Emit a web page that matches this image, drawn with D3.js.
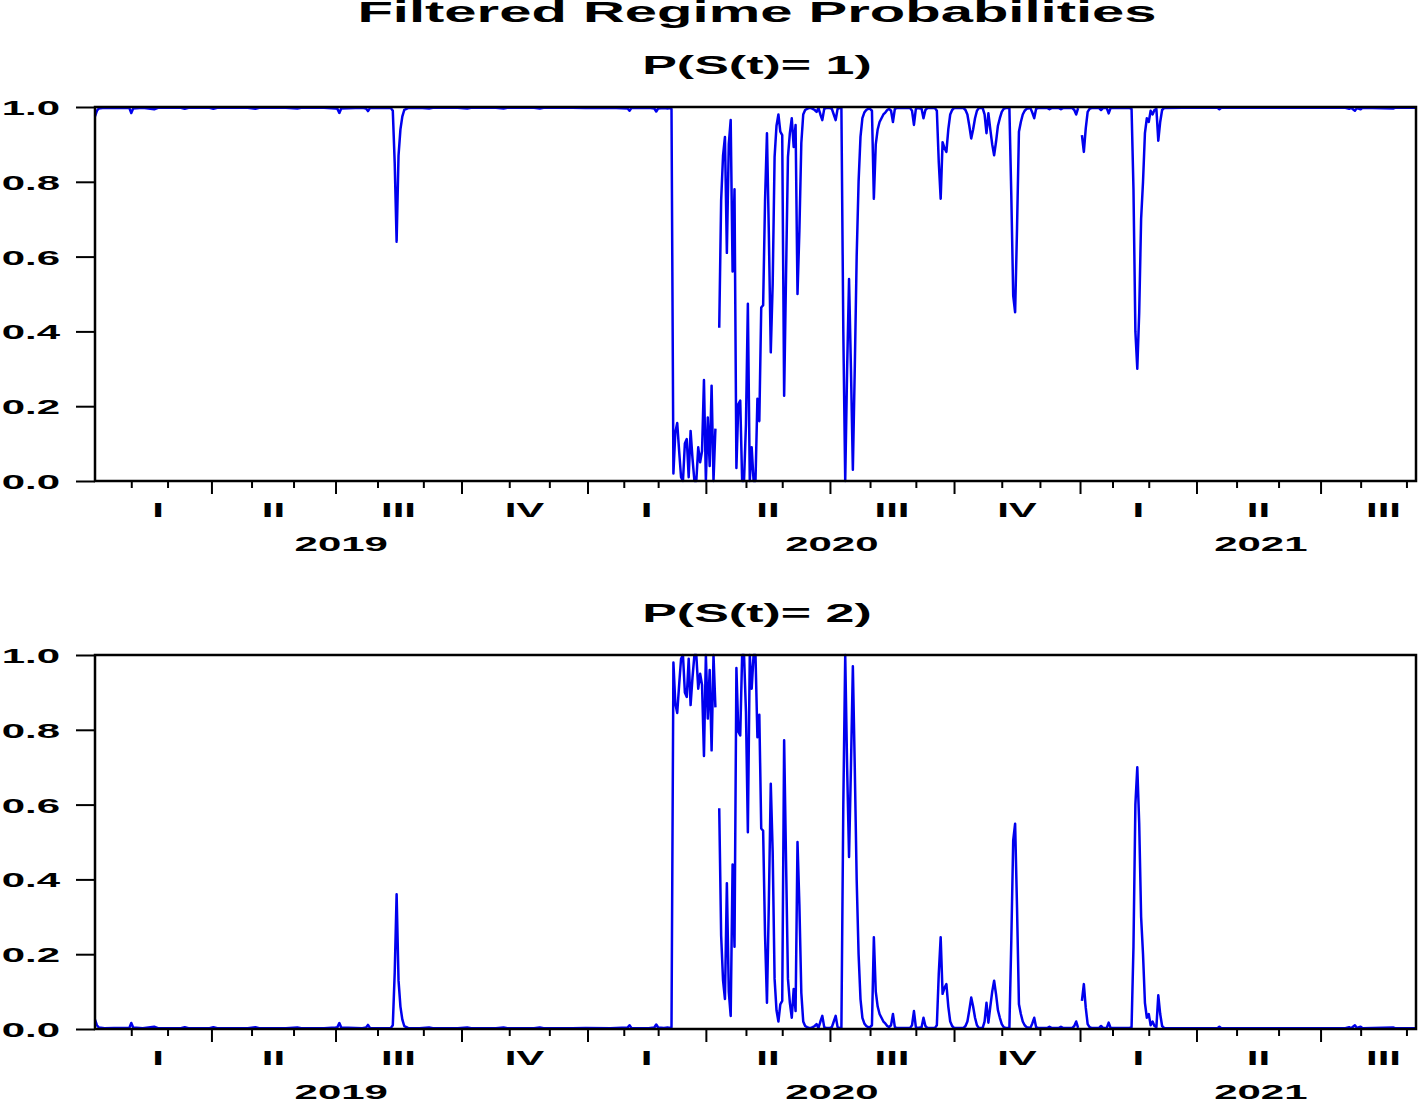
<!DOCTYPE html>
<html>
<head>
<meta charset="utf-8">
<script src="https://cdn.jsdelivr.net/npm/d3@7"></script>
<style>
  body { margin: 0; background: #fff; }
  svg { display: block; }
  text { font-family: "Liberation Sans", Arial, sans-serif; font-weight: bold; fill: #000; }
</style>
</head>
<body>
<svg id="chart" width="1418" height="1099"></svg>
<script>
// x runs over observation numbers (daily, Jan 2019 - Sep 2021)
const obsExtent = [0, 692];
const monthTicks = [19, 38, 82, 104, 148, 172, 217, 238, 277, 295, 341, 360, 406, 430, 475, 495, 533, 552, 598, 620, 663, 687];
const quarterTicks = [61, 126, 192, 258, 320, 385, 450, 516, 577, 642];
const quarterBounds = [5, 61, 126, 192, 258, 320, 385, 450, 516, 577, 642, 708];
const quarterLabels = ["I", "II", "III", "IV", "I", "II", "III", "IV", "I", "II", "III"];
const years = ["2019", "2020", "2021"];
const yearQuarters = [[0, 3], [4, 7], [8, 10]];
const yTicks = [0, 0.2, 0.4, 0.6, 0.8, 1.0];

// P(S(t)=2), [obs, prob], null = missing day
const regime2 = [[0,0.025],[1,0.01],[2,0.004],[5,0.002],[10,0.003],[18,0.003],[19,0.016],[20,0.004],[25,0.002],[31,0.006],[33,0.002],[45,0.002],[47,0.005],[49,0.002],[60,0.002],[62,0.005],[64,0.002],[80,0.002],[84,0.005],[86,0.002],[100,0.002],[106,0.004],[108,0.002],[120,0.002],[126,0.004],[127,0.005],[128,0.016],[129,0.004],[140,0.002],[142,0.004],[143,0.011],[144,0.003],[150,0.002],[155,0.003],[156,0.01],[157,0.15],[158,0.36],[159,0.13],[160,0.06],[161,0.025],[162,0.008],[164,0.003],[170,0.002],[175,0.004],[177,0.002],[190,0.002],[195,0.004],[197,0.002],[210,0.002],[214,0.004],[216,0.002],[230,0.002],[233,0.004],[235,0.002],[250,0.002],[257,0.003],[270,0.002],[279,0.004],[280,0.01],[281,0.003],[290,0.002],[293,0.004],[294,0.012],[295,0.004],[298,0.003],[300,0.004],[301,0.003],[302,0.005],
  [303,0.98],[304,0.87],[305,0.845],[306,0.92],[307,0.99],[308,1.0],[309,0.9],[310,0.888],[311,0.99],[312,0.866],[313,0.94],[314,1.0],[315,1.0],[316,0.91],[317,0.95],[318,0.92],[319,0.73],[320,1.0],[321,0.83],[322,0.96],[323,0.745],[324,1.0],[325,0.86],[326,null],[327,0.59],[328,0.25],[329,0.13],[330,0.08],[331,0.39],[332,0.1],[333,0.035],[334,0.44],[335,0.22],[336,0.965],[337,0.795],[338,0.785],[339,1.0],[340,1.0],[341,0.848],[342,0.526],[343,1.0],[344,0.91],[345,1.0],[346,1.0],[347,0.78],[348,0.84],[349,0.536],[350,0.53],[351,0.25],[352,0.07],[353,0.34],[354,0.656],[355,0.473],[356,0.134],[357,0.05],[358,0.02],[359,0.066],[360,0.075],[361,0.772],[362,0.45],[363,0.134],[364,0.07],[365,0.03],[366,0.107],[367,0.048],[368,0.5],[369,0.33],[370,0.097],[371,0.02],[372,0.008],[373,0.005],[374,0.003],[375,0.003],[376,0.005],[377,0.008],[378,0.013],[379,0.003],[380,0.02],[381,0.035],[382,0.005],[383,0.003],[385,0.003],[386,0.005],[387,0.02],[388,0.035],[389,0.005],[390,0.003],[391,0.003],
  [392,0.6],[393,1.0],[394,0.7],[395,0.46],[396,0.7],[397,0.97],[398,0.7],[399,0.4],[400,0.2],[401,0.08],[402,0.03],[403,0.015],[404,0.008],[405,0.005],[406,0.005],[407,0.01],[408,0.245],[409,0.1],[410,0.06],[411,0.04],[412,0.03],[413,0.02],[414,0.015],[415,0.008],[416,0.005],[417,0.01],[418,0.04],[419,0.005],[420,0.003],[427,0.003],[428,0.01],[429,0.048],[430,0.005],[431,0.003],[433,0.005],[434,0.03],[435,0.008],[436,0.003],[440,0.003],[441,0.01],[442,0.147],[443,0.245],[444,0.094],[445,0.11],[446,0.12],[447,0.06],[448,0.02],[449,0.008],[450,0.003],[455,0.003],[456,0.008],[457,0.02],[458,0.05],[459,0.084],[460,0.06],[461,0.03],[462,0.01],[463,0.003],[465,0.003],[466,0.02],[467,0.07],[468,0.017],[469,0.06],[470,0.1],[471,0.129],[472,0.093],[473,0.05],[474,0.03],[475,0.013],[476,0.005],[477,0.003],[479,0.003],[480,0.236],[481,0.504],[482,0.549],[483,0.325],[484,0.066],[485,0.04],[486,0.02],[487,0.01],[488,0.005],[490,0.003],[491,0.015],[492,0.03],[493,0.005],[494,0.003],[499,0.003],[500,0.006],[501,0.003],[505,0.003],[506,0.006],[507,0.003],[512,0.003],[513,0.008],[514,0.02],[515,0.003],[516,null],
  [517,0.075],[518,0.12],[519,0.057],[520,0.013],[521,0.005],[522,0.003],[526,0.003],[527,0.008],[528,0.003],[530,0.003],[531,0.017],[532,0.003],[542,0.003],[543,0.005],[544,0.22],[545,0.6],[546,0.7],[547,0.55],[548,0.3],[549,0.2],[550,0.07],[551,0.03],[552,0.04],[553,0.01],[554,0.02],[555,0.008],[556,0.005],[557,0.09],[558,0.04],[559,0.008],[560,0.003],[570,0.002],[588,0.002],[589,0.006],[590,0.002],[610,0.002],[630,0.002],[655,0.002],[657,0.005],[658,0.002],[660,0.01],[661,0.003],[663,0.006],[664,0.002],[680,0.004],[681,0.002],[692,0.002]];

// P(S(t)=1), [obs, prob]
const regime1 = [[0,0.975],[1,0.99],[2,0.996],[5,0.998],[10,0.997],[18,0.997],[19,0.984],[20,0.996],[25,0.998],[31,0.994],[33,0.998],[45,0.998],[47,0.995],[49,0.998],[60,0.998],[62,0.995],[64,0.998],[80,0.998],[84,0.995],[86,0.998],[100,0.998],[106,0.996],[108,0.998],[120,0.998],[126,0.996],[127,0.995],[128,0.984],[129,0.996],[140,0.998],[142,0.996],[143,0.989],[144,0.997],[150,0.998],[155,0.997],[156,0.99],[157,0.85],[158,0.64],[159,0.87],[160,0.94],[161,0.975],[162,0.992],[164,0.997],[170,0.998],[175,0.996],[177,0.998],[190,0.998],[195,0.996],[197,0.998],[210,0.998],[214,0.996],[216,0.998],[230,0.998],[233,0.996],[235,0.998],[250,0.998],[257,0.997],[270,0.998],[279,0.996],[280,0.99],[281,0.997],[290,0.998],[293,0.996],[294,0.988],[295,0.996],[298,0.997],[300,0.996],[301,0.997],[302,0.995],
  [303,0.02],[304,0.13],[305,0.155],[306,0.08],[307,0.01],[308,0.0],[309,0.1],[310,0.112],[311,0.01],[312,0.134],[313,0.06],[314,0.0],[315,0.0],[316,0.09],[317,0.05],[318,0.08],[319,0.27],[320,0.0],[321,0.17],[322,0.04],[323,0.255],[324,0.0],[325,0.14],[326,null],[327,0.41],[328,0.75],[329,0.87],[330,0.92],[331,0.61],[332,0.9],[333,0.965],[334,0.56],[335,0.78],[336,0.035],[337,0.205],[338,0.215],[339,0.0],[340,0.0],[341,0.152],[342,0.474],[343,0.0],[344,0.09],[345,0.0],[346,0.0],[347,0.22],[348,0.16],[349,0.464],[350,0.47],[351,0.75],[352,0.93],[353,0.66],[354,0.344],[355,0.527],[356,0.866],[357,0.95],[358,0.98],[359,0.934],[360,0.925],[361,0.228],[362,0.55],[363,0.866],[364,0.93],[365,0.97],[366,0.893],[367,0.952],[368,0.5],[369,0.67],[370,0.903],[371,0.98],[372,0.992],[373,0.995],[374,0.997],[375,0.997],[376,0.995],[377,0.992],[378,0.987],[379,0.997],[380,0.98],[381,0.965],[382,0.995],[383,0.997],[385,0.997],[386,0.995],[387,0.98],[388,0.965],[389,0.995],[390,0.997],[391,0.997],
  [392,0.4],[393,0.0],[394,0.3],[395,0.54],[396,0.3],[397,0.03],[398,0.3],[399,0.6],[400,0.8],[401,0.92],[402,0.97],[403,0.985],[404,0.992],[405,0.995],[406,0.995],[407,0.99],[408,0.755],[409,0.9],[410,0.94],[411,0.96],[412,0.97],[413,0.98],[414,0.985],[415,0.992],[416,0.995],[417,0.99],[418,0.96],[419,0.995],[420,0.997],[427,0.997],[428,0.99],[429,0.952],[430,0.995],[431,0.997],[433,0.995],[434,0.97],[435,0.992],[436,0.997],[440,0.997],[441,0.99],[442,0.853],[443,0.755],[444,0.906],[445,0.89],[446,0.88],[447,0.94],[448,0.98],[449,0.992],[450,0.997],[455,0.997],[456,0.992],[457,0.98],[458,0.95],[459,0.916],[460,0.94],[461,0.97],[462,0.99],[463,0.997],[465,0.997],[466,0.98],[467,0.93],[468,0.983],[469,0.94],[470,0.9],[471,0.871],[472,0.907],[473,0.95],[474,0.97],[475,0.987],[476,0.995],[477,0.997],[479,0.997],[480,0.764],[481,0.496],[482,0.451],[483,0.675],[484,0.934],[485,0.96],[486,0.98],[487,0.99],[488,0.995],[490,0.997],[491,0.985],[492,0.97],[493,0.995],[494,0.997],[499,0.997],[500,0.994],[501,0.997],[505,0.997],[506,0.994],[507,0.997],[512,0.997],[513,0.992],[514,0.98],[515,0.997],[516,null],
  [517,0.925],[518,0.88],[519,0.943],[520,0.987],[521,0.995],[522,0.997],[526,0.997],[527,0.992],[528,0.997],[530,0.997],[531,0.983],[532,0.997],[542,0.997],[543,0.995],[544,0.78],[545,0.4],[546,0.3],[547,0.45],[548,0.7],[549,0.8],[550,0.93],[551,0.97],[552,0.96],[553,0.99],[554,0.98],[555,0.992],[556,0.995],[557,0.91],[558,0.96],[559,0.992],[560,0.997],[570,0.998],[588,0.998],[589,0.994],[590,0.998],[610,0.998],[630,0.998],[655,0.998],[657,0.995],[658,0.998],[660,0.99],[661,0.997],[663,0.994],[664,0.998],[680,0.996],[681,0.998],[692,0.998]];

const width = 1418, height = 1099;
const left = 95, right = 1416;
const panelH = 374;
const stretch = 2; // EViews text comes out twice as wide as normal

const svg = d3.select("#chart");
svg.append("rect").attr("width", width).attr("height", height).attr("fill", "#fff");

const x = d3.scaleLinear().domain(obsExtent).range([left, right]);

// horizontally stretched text
function wideText(g, str, cx, y, size) {
  return g.append("text")
    .attr("x", cx / stretch)
    .attr("y", y)
    .attr("transform", `scale(${stretch},1)`)
    .attr("text-anchor", "middle")
    .style("font-size", size + "px")
    .text(str);
}

wideText(svg, "Filtered Regime Probabilities", 757, 22, 29);

const panels = [
  { title: "P(S(t)= 1)", top: 107, data: regime1 },
  { title: "P(S(t)= 2)", top: 655, data: regime2 }
];

panels.forEach(p => {
  const bottom = p.top + panelH;
  const y = d3.scaleLinear().domain([0, 1]).range([bottom, p.top]);
  const g = svg.append("g");

  wideText(g, p.title, 757, p.top - 33, 26);

  // y axis
  const yAxis = g.append("g")
    .attr("transform", `translate(${left},0)`)
    .call(d3.axisLeft(y).tickValues(yTicks).tickFormat(d3.format(".1f")).tickSize(19).tickSizeOuter(0));
  yAxis.select(".domain").remove();
  yAxis.selectAll("line").attr("stroke", "#000").attr("stroke-width", 2);
  yAxis.selectAll("text")
    .attr("x", -35 / stretch)
    .attr("dy", "0.36em")
    .attr("transform", `scale(${stretch},1)`)
    .style("font-size", "21px");

  // x axis: month and quarter ticks
  const monthAxis = g.append("g")
    .attr("transform", `translate(0,${bottom})`)
    .call(d3.axisBottom(x).tickValues(monthTicks).tickFormat("").tickSize(7).tickSizeOuter(0));
  const quarterAxis = g.append("g")
    .attr("transform", `translate(0,${bottom})`)
    .call(d3.axisBottom(x).tickValues(quarterTicks).tickFormat("").tickSize(13).tickSizeOuter(0));
  [monthAxis, quarterAxis].forEach(a => {
    a.select(".domain").remove();
    a.selectAll("line").attr("stroke", "#000").attr("stroke-width", 2);
  });

  const qCenters = quarterLabels.map((q, i) => x((quarterBounds[i] + quarterBounds[i + 1]) / 2));
  quarterLabels.forEach((q, i) => wideText(g, q, qCenters[i], bottom + 36, 21));
  years.forEach((yr, i) => {
    const [a, b] = yearQuarters[i];
    wideText(g, yr, (qCenters[a] + qCenters[b]) / 2, bottom + 70, 21);
  });

  // the probability line
  const line = d3.line()
    .defined(d => d[1] !== null)
    .x(d => x(d[0]))
    .y(d => y(d[1]));

  g.append("path")
    .datum(p.data)
    .attr("fill", "none")
    .attr("stroke", "#0000ee")
    .attr("stroke-width", 2.5)
    .attr("stroke-linejoin", "round")
    .attr("d", line);

  // frame
  g.append("rect")
    .attr("x", left).attr("y", p.top)
    .attr("width", right - left).attr("height", panelH)
    .attr("fill", "none")
    .attr("stroke", "#000")
    .attr("stroke-width", 2.5);
});
</script>
</body>
</html>
